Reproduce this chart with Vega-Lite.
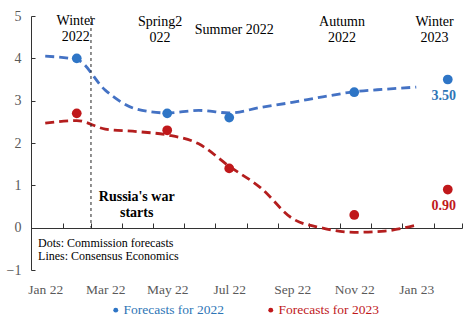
{
  "$schema": "https://vega.github.io/schema/vega-lite/v6.json",
  "autosize": "none",
  "padding": {"left": 31, "top": 16, "right": 12, "bottom": 53},
  "width": 431,
  "height": 254,
  "background": "white",
  "config": {
    "view": {"stroke": null},
    "font": "Times New Roman, Liberation Serif, serif",
    "text": {"font": "Times New Roman, Liberation Serif, serif", "fontSize": 13.5}
  },
  "datasets": {
    "lines": [
      {"date": "2022-01-15", "value": 4.05, "curve": "2022"},
      {"date": "2022-02-15", "value": 3.97, "curve": "2022"},
      {"date": "2022-03-15", "value": 3.25, "curve": "2022"},
      {"date": "2022-04-15", "value": 2.8, "curve": "2022"},
      {"date": "2022-05-15", "value": 2.71, "curve": "2022"},
      {"date": "2022-06-15", "value": 2.77, "curve": "2022"},
      {"date": "2022-07-15", "value": 2.71, "curve": "2022"},
      {"date": "2022-08-15", "value": 2.84, "curve": "2022"},
      {"date": "2022-09-15", "value": 2.96, "curve": "2022"},
      {"date": "2022-10-15", "value": 3.09, "curve": "2022"},
      {"date": "2022-11-15", "value": 3.21, "curve": "2022"},
      {"date": "2022-12-15", "value": 3.27, "curve": "2022"},
      {"date": "2023-01-15", "value": 3.32, "curve": "2022"},
      {"date": "2022-01-15", "value": 2.47, "curve": "2023"},
      {"date": "2022-02-15", "value": 2.53, "curve": "2023"},
      {"date": "2022-03-15", "value": 2.33, "curve": "2023"},
      {"date": "2022-04-15", "value": 2.27, "curve": "2023"},
      {"date": "2022-05-15", "value": 2.19, "curve": "2023"},
      {"date": "2022-06-15", "value": 1.98, "curve": "2023"},
      {"date": "2022-07-15", "value": 1.45, "curve": "2023"},
      {"date": "2022-08-15", "value": 0.94, "curve": "2023"},
      {"date": "2022-09-15", "value": 0.22, "curve": "2023"},
      {"date": "2022-10-15", "value": -0.01, "curve": "2023"},
      {"date": "2022-11-15", "value": -0.11, "curve": "2023"},
      {"date": "2022-12-15", "value": -0.08, "curve": "2023"},
      {"date": "2023-01-15", "value": 0.06, "curve": "2023"}
    ],
    "dots": [
      {"date": "2022-02-15", "value": 4.0, "series": "Forecasts for 2022"},
      {"date": "2022-05-15", "value": 2.7, "series": "Forecasts for 2022"},
      {"date": "2022-07-15", "value": 2.6, "series": "Forecasts for 2022"},
      {"date": "2022-11-15", "value": 3.2, "series": "Forecasts for 2022"},
      {"date": "2023-02-15", "value": 3.5, "series": "Forecasts for 2022"},
      {"date": "2022-02-15", "value": 2.7, "series": "Forecasts for 2023"},
      {"date": "2022-05-15", "value": 2.3, "series": "Forecasts for 2023"},
      {"date": "2022-07-15", "value": 1.4, "series": "Forecasts for 2023"},
      {"date": "2022-11-15", "value": 0.3, "series": "Forecasts for 2023"},
      {"date": "2023-02-15", "value": 0.9, "series": "Forecasts for 2023"}
    ],
    "seasons": [
      {"date": "2022-02-14", "value": 4.88, "label": "Winter\n2022"},
      {"date": "2022-05-08", "value": 4.85, "label": "Spring2\n022"},
      {"date": "2022-07-20", "value": 4.67, "label": "Summer 2022"},
      {"date": "2022-11-03", "value": 4.87, "label": "Autumn\n2022"},
      {"date": "2023-02-02", "value": 4.86, "label": "Winter\n2023"}
    ],
    "war": [
      {"date": "2022-03-01", "top": 5, "bottom": 0, "label": "Russia's war\nstarts", "labelDate": "2022-04-15", "labelValue": 0.73}
    ],
    "notes": [
      {"date": "2022-01-08", "value": -0.37, "label": "Dots: Commission forecasts\nLines: Consensus Economics"}
    ],
    "valueLabels": [
      {"date": "2023-02-11", "value": 3.11, "label": "3.50", "series": "2022"},
      {"date": "2023-02-11", "value": 0.51, "label": "0.90", "series": "2023"}
    ]
  },
  "resolve": {"axis": {"x": "independent"}},
  "layer": [
    {
      "data": {"name": "lines"},
      "mark": {"type": "line", "interpolate": "monotone", "strokeWidth": 2.8, "strokeDash": [9, 5]},
      "encoding": {
        "x": {
          "field": "date", "type": "temporal",
          "scale": {"type": "utc", "domain": [{"year": 2022, "month": 1, "date": 1, "utc": true}, {"year": 2023, "month": 3, "date": 1, "utc": true}]},
          "axis": {
            "orient": "bottom", "title": null, "domain": false, "ticks": false, "grid": false,
            "values": [
              {"year": 2022, "month": 1, "date": 15, "utc": true},
              {"year": 2022, "month": 3, "date": 15, "utc": true},
              {"year": 2022, "month": 5, "date": 15, "utc": true},
              {"year": 2022, "month": 7, "date": 15, "utc": true},
              {"year": 2022, "month": 9, "date": 15, "utc": true},
              {"year": 2022, "month": 11, "date": 15, "utc": true},
              {"year": 2023, "month": 1, "date": 15, "utc": true}
            ],
            "format": "%b %y", "labelFont": "Times New Roman, Liberation Serif, serif", "labelFontSize": 13.5, "labelColor": "#595959",
            "labelPadding": 12, "labelFlush": false, "labelOverlap": false
          }
        },
        "y": {
          "field": "value", "type": "quantitative",
          "scale": {"domain": [-1, 5], "nice": false, "zero": false},
          "axis": {
            "title": null, "grid": false, "values": [-1, 0, 1, 2, 3, 4, 5],
            "domain": true, "domainColor": "#333333", "domainWidth": 1,
            "ticks": true, "tickColor": "#333333", "tickSize": -4,
            "labelFont": "Times New Roman, Liberation Serif, serif", "labelFontSize": 14, "labelColor": "#595959", "labelPadding": 14
          }
        },
        "stroke": {
          "field": "curve", "type": "nominal",
          "scale": {"domain": ["2022", "2023"], "range": ["#4472C4", "#B41E1E"]},
          "legend": null
        }
      }
    },
    {
      "data": {"name": "dots"},
      "mark": {"type": "circle", "size": 95, "opacity": 1},
      "encoding": {
        "x": {
          "field": "date", "type": "temporal",
          "axis": {
            "orient": "top", "offset": -212, "title": null, "labels": false, "grid": false,
            "domain": true, "domainColor": "#333333", "ticks": true, "tickColor": "#333333", "tickSize": 5,
            "tickCount": {"interval": "month", "step": 1}
          }
        },
        "y": {"field": "value", "type": "quantitative"},
        "color": {
          "field": "series", "type": "nominal",
          "scale": {"domain": ["Forecasts for 2022", "Forecasts for 2023"], "range": ["#2E75C6", "#C0181B"]},
          "legend": {
            "orient": "none", "legendX": 78, "legendY": 287, "direction": "horizontal", "title": null,
            "symbolType": "circle", "symbolSize": 24,
            "labelFont": "Times New Roman, Liberation Serif, serif", "labelFontSize": 13.5, "labelOffset": 1, "columnPadding": 40,
            "labelLimit": 300,
            "labelColor": {"expr": "datum.value == 'Forecasts for 2022' ? '#2E75B6' : '#C0181B'"}
          }
        }
      }
    },
    {
      "data": {"name": "war"},
      "mark": {"type": "rule", "strokeDash": [3, 3], "strokeWidth": 1, "color": "#222222"},
      "encoding": {
        "x": {"field": "date", "type": "temporal", "axis": null},
        "y": {"field": "top", "type": "quantitative"},
        "y2": {"field": "bottom"}
      }
    },
    {
      "data": {"name": "war"},
      "mark": {"type": "text", "fontWeight": "bold", "lineBreak": "\n", "lineHeight": 16, "align": "center", "baseline": "middle", "color": "black", "fontSize": 14},
      "encoding": {
        "x": {"field": "labelDate", "type": "temporal", "axis": null},
        "y": {"field": "labelValue", "type": "quantitative"},
        "text": {"field": "label"}
      }
    },
    {
      "data": {"name": "seasons"},
      "mark": {"type": "text", "lineBreak": "\n", "lineHeight": 16, "align": "center", "baseline": "middle", "color": "black", "fontSize": 14},
      "encoding": {
        "x": {"field": "date", "type": "temporal", "axis": null},
        "y": {"field": "value", "type": "quantitative"},
        "text": {"field": "label"}
      }
    },
    {
      "data": {"name": "notes"},
      "mark": {"type": "text", "lineBreak": "\n", "lineHeight": 13, "align": "left", "baseline": "middle", "color": "black", "fontSize": 12},
      "encoding": {
        "x": {"field": "date", "type": "temporal", "axis": null},
        "y": {"field": "value", "type": "quantitative"},
        "text": {"field": "label"}
      }
    },
    {
      "data": {"name": "valueLabels"},
      "mark": {"type": "text", "fontWeight": "bold", "align": "center", "baseline": "middle", "fontSize": 14},
      "encoding": {
        "x": {"field": "date", "type": "temporal", "axis": null},
        "y": {"field": "value", "type": "quantitative"},
        "text": {"field": "label"},
        "color": {"condition": {"test": "datum.series == '2022'", "value": "#2E75B6"}, "value": "#C0181B"}
      }
    }
  ]
}
